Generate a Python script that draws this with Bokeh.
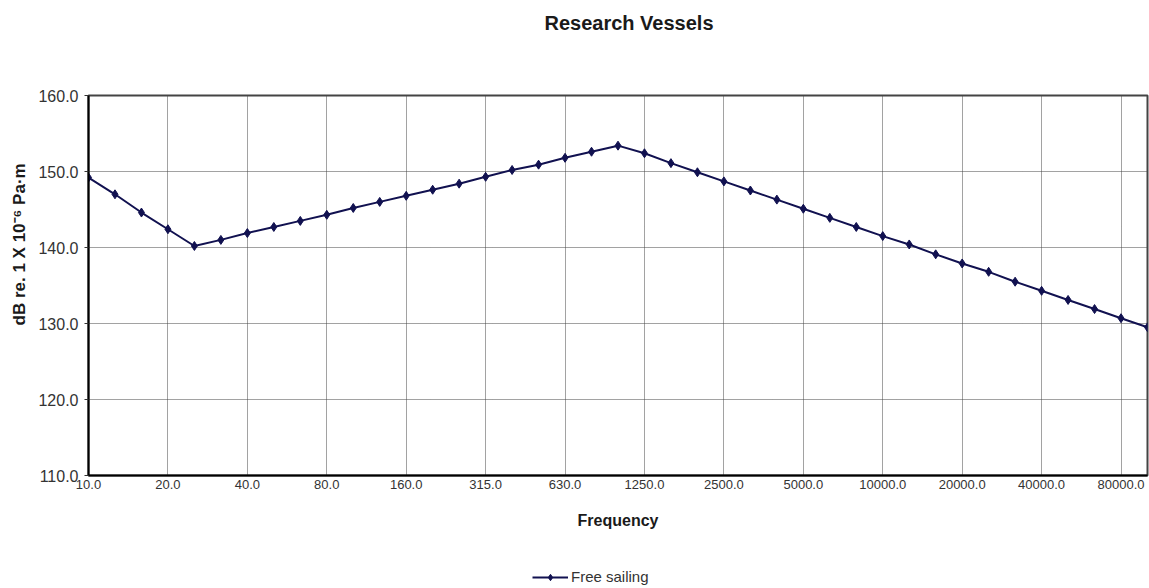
from bokeh.plotting import figure
from bokeh.layouts import column
from bokeh.models import (ColumnDataSource, FixedTicker, Legend, LegendItem,
                          Title, Range1d)
from bokeh.embed import file_html
from bokeh.resources import INLINE

# One-third octave band centre frequencies (Hz)
freqs = [10, 12.5, 16, 20, 25, 31.5, 40, 50, 63, 80, 100, 125, 160, 200, 250,
         315, 400, 500, 630, 800, 1000, 1250, 1600, 2000, 2500, 3150, 4000,
         5000, 6300, 8000, 10000, 12500, 16000, 20000, 25000, 31500, 40000,
         50000, 63000, 80000, 100000]

# Source level, free sailing (dB re 1 uPa at 1 m)
free_sailing = [149.2, 147.0, 144.6, 142.4, 140.2, 141.0, 141.9, 142.7, 143.5,
                144.3, 145.2, 146.0, 146.8, 147.6, 148.4, 149.3, 150.2, 150.9,
                151.8, 152.6, 153.4, 152.4, 151.1, 149.9, 148.7, 147.5, 146.3,
                145.1, 143.9, 142.7, 141.5, 140.4, 139.1, 137.9, 136.8, 135.5,
                134.3, 133.1, 131.9, 130.7, 129.5]

# Labelled bands on the frequency axis
tick_labels = ["10.0", "20.0", "40.0", "80.0", "160.0", "315.0", "630.0",
               "1250.0", "2500.0", "5000.0", "10000.0", "20000.0", "40000.0",
               "80000.0"]

y_ticks = [110, 120, 130, 140, 150, 160]

FONT = "Liberation Sans"
NAVY = "#111150"
GRID = "#444444"
TEXT = "#1a1a1a"

idx = list(range(len(freqs)))
tick_pos = [freqs.index(float(t)) for t in tick_labels]

src = ColumnDataSource(dict(x=idx, freq=freqs, level=free_sailing))

p = figure(width=1149, height=558, output_backend="svg", toolbar_location=None,
           x_range=Range1d(0, len(freqs) - 1), y_range=Range1d(110, 160),
           min_border_left=87, min_border_right=2, min_border_top=95,
           min_border_bottom=83, background_fill_color="white",
           border_fill_color="white")
p.title = None

# Titles: an empty spacer next to the frame pushes the chart title up
p.add_layout(Title(text=" ", text_font_size="2px", standoff=53), "above")
p.add_layout(Title(text="Research Vessels", align="left", offset=456,
                   vertical_align="bottom", standoff=10, text_font=FONT,
                   text_font_size="20px", text_font_style="bold",
                   text_color=TEXT), "above")

p.outline_line_color = "#444444"
p.outline_line_width = 2

# Axes
xa = p.xaxis[0]
xa.ticker = FixedTicker(ticks=tick_pos)
xa.major_label_overrides = {pos: lab for pos, lab in zip(tick_pos, tick_labels)}
xa.axis_label = "Frequency"
xa.axis_label_text_font = FONT
xa.axis_label_text_font_size = "16px"
xa.axis_label_text_font_style = "bold"
xa.axis_label_text_color = TEXT
xa.axis_label_standoff = 20
xa.major_label_text_font = FONT
xa.major_label_text_font_size = "13px"
xa.major_label_text_color = "#333333"
xa.major_label_standoff = 4
xa.axis_line_color = "black"
xa.axis_line_width = 2
xa.major_tick_in = 0
xa.major_tick_out = 0
xa.minor_tick_line_color = None

ya = p.yaxis[0]
ya.ticker = FixedTicker(ticks=y_ticks)
ya.major_label_overrides = {v: f"{v:.1f}" for v in y_ticks}
ya.major_label_text_font = FONT
ya.major_label_text_font_size = "16px"
ya.major_label_text_color = "#333333"
ya.major_label_standoff = 6
ya.axis_line_color = "black"
ya.axis_line_width = 2
ya.major_tick_in = 0
ya.major_tick_out = 4
ya.major_tick_line_color = "#333333"
ya.minor_tick_line_color = None

# Vertical axis title, set outside the tick labels
p.add_layout(Title(text="dB re. 1 X 10\u207b\u2076 Pa\u00b7m", align="left",
                   offset=150, vertical_align="bottom", standoff=14,
                   text_font=FONT, text_font_size="17px",
                   text_font_style="bold", text_color=TEXT), "left")

# Dotted grid
for g in (p.xgrid[0], p.ygrid[0]):
    g.grid_line_color = GRID
    g.grid_line_dash = "1 1"
    g.grid_line_width = 1
p.xgrid[0].ticker = FixedTicker(ticks=tick_pos)
p.ygrid[0].ticker = FixedTicker(ticks=y_ticks)

# Series
LINE_W = 2
MARK_SIZE = 9
p.line("x", "level", source=src, line_color=NAVY, line_width=LINE_W)
p.scatter("x", "level", source=src, marker="diamond", size=MARK_SIZE,
          fill_color=NAVY, line_color=NAVY)

# Key strip under the chart; its frame lines up with the chart frame, and
# its unit ranges keep the series itself out of view so only the key shows
key = figure(width=1149, height=30, output_backend="svg", toolbar_location=None,
             x_range=Range1d(0, 1), y_range=Range1d(0, 1),
             x_axis_type=None, y_axis_type=None, min_border=0,
             background_fill_color="white", border_fill_color="white")
key.grid.visible = False
key.outline_line_color = None
k_ln = key.line("x", "level", source=src, line_color=NAVY, line_width=LINE_W)
k_mk = key.scatter("x", "level", source=src, marker="diamond",
                   size=MARK_SIZE, fill_color=NAVY, line_color=NAVY)
legend = Legend(items=[LegendItem(label="Free sailing", renderers=[k_ln, k_mk])],
                orientation="horizontal", location=(444, 3),
                border_line_color=None, background_fill_alpha=0,
                label_text_font=FONT, label_text_font_size="15px",
                label_text_color="#333333", glyph_width=36, glyph_height=16,
                padding=2, margin=0, spacing=0, label_standoff=3)
key.add_layout(legend, "center")

page = column(p, key, spacing=0)
open("out.html", "w").write(file_html(page, INLINE))
